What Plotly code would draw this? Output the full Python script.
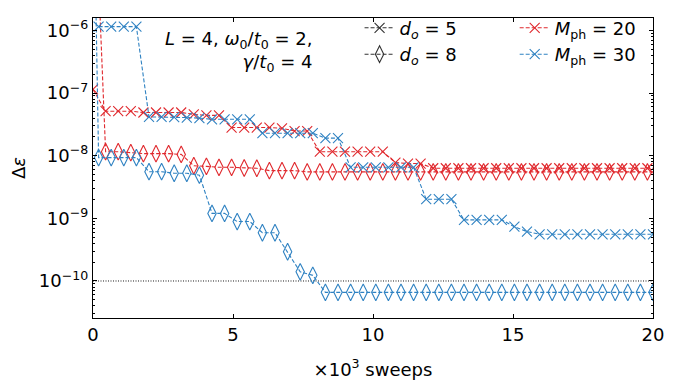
import plotly.graph_objects as go

# sweep positions (x10^3 sweeps)
sweeps_m30 = [0.2, 0.65, 1.1, 1.55, 2.0, 2.45, 2.9, 3.35, 3.8, 4.25, 4.7, 5.15, 5.6,
              6.05, 6.5, 6.95, 7.4, 7.85, 8.3, 8.75, 9.2, 9.65, 10.1, 10.55, 11.0,
              11.45, 11.9, 12.35, 12.8, 13.25, 13.7, 14.15, 14.6, 15.05, 15.5, 15.95,
              16.4, 16.85, 17.3, 17.75, 18.2, 18.65, 19.1, 19.55, 20.0]
sweeps_m20 = [0.45, 0.9, 1.35, 1.8, 2.25, 2.7, 3.15, 3.6, 4.05, 4.5, 4.95, 5.4, 5.85,
              6.3, 6.75, 7.2, 7.65, 8.1, 8.55, 9.0, 9.45, 9.9, 10.35, 10.8, 11.25,
              11.7, 12.15, 12.6, 13.05, 13.5, 13.95, 14.4, 14.85, 15.3, 15.75, 16.2,
              16.65, 17.1, 17.55, 18.0, 18.45, 18.9, 19.35, 19.8, 20.25]

# energy error, M_ph = 20, d_o = 5
err_m20_d5_start = [1.15e-7]
err_m20_d5 = [5.14e-8, 5.14e-8, 5.14e-8, 4.90e-8, 4.90e-8, 4.90e-8, 4.90e-8, 4.57e-8,
              4.41e-8, 4.41e-8, 2.82e-8, 2.82e-8, 2.82e-8, 2.82e-8, 2.74e-8, 2.48e-8,
              2.48e-8, 1.16e-8, 1.16e-8, 1.16e-8, 1.16e-8, 1.16e-8, 1.16e-8, 7.76e-9,
              7.50e-9, 7.50e-9, 6.31e-9, 6.31e-9, 6.31e-9, 6.31e-9, 6.31e-9, 6.31e-9,
              6.31e-9, 6.31e-9, 6.31e-9, 6.31e-9, 6.31e-9, 6.31e-9, 6.31e-9, 6.31e-9,
              6.31e-9, 6.31e-9, 6.31e-9, 6.31e-9, 6.31e-9]
# energy error, M_ph = 20, d_o = 8
err_m20_d8_start = [1.0e-3]
err_m20_d8 = [1.16e-8, 1.16e-8, 1.12e-8, 1.08e-8, 1.08e-8, 1.08e-8, 1.05e-8, 6.92e-9,
              6.76e-9, 6.53e-9, 6.53e-9, 6.37e-9, 6.31e-9, 5.78e-9, 5.78e-9, 5.78e-9,
              5.52e-9, 5.52e-9, 5.52e-9, 5.52e-9, 5.52e-9, 5.52e-9, 5.52e-9, 5.52e-9,
              5.52e-9, 5.52e-9, 5.52e-9, 5.52e-9, 5.52e-9, 5.52e-9, 5.52e-9, 5.52e-9,
              5.52e-9, 5.52e-9, 5.52e-9, 5.52e-9, 5.52e-9, 5.52e-9, 5.52e-9, 5.52e-9,
              5.52e-9, 5.52e-9, 5.52e-9, 5.52e-9, 5.52e-9]
# energy error, M_ph = 30, d_o = 5
err_m30_d5 = [1.15e-6, 1.15e-6, 1.15e-6, 1.15e-6, 4.17e-8, 4.17e-8, 4.12e-8, 4.07e-8,
              3.98e-8, 3.82e-8, 3.82e-8, 3.82e-8, 3.82e-8, 2.29e-8, 2.29e-8, 2.29e-8,
              2.29e-8, 2.29e-8, 1.91e-8, 1.91e-8, 6.53e-9, 6.53e-9, 6.53e-9, 6.53e-9,
              6.53e-9, 6.53e-9, 2.02e-9, 2.02e-9, 2.02e-9, 9.44e-10, 9.44e-10, 9.44e-10,
              9.44e-10, 7.35e-10, 6.15e-10, 5.57e-10, 5.57e-10, 5.57e-10, 5.57e-10,
              5.57e-10, 5.57e-10, 5.57e-10, 5.57e-10, 5.57e-10, 5.57e-10]
# energy error, M_ph = 30, d_o = 8
err_m30_d8_start = [1.0e-3]
err_m30_d8 = [9.33e-9, 9.33e-9, 9.33e-9, 9.33e-9, 5.56e-9, 5.56e-9, 5.25e-9, 5.25e-9,
              4.90e-9, 1.20e-9, 1.20e-9, 8.89e-10, 8.89e-10, 5.89e-10, 5.89e-10,
              2.93e-10, 1.40e-10, 1.23e-10, 6.58e-11, 6.58e-11, 6.58e-11, 6.58e-11,
              6.58e-11, 6.58e-11, 6.58e-11, 6.58e-11, 6.58e-11, 6.58e-11, 6.58e-11,
              6.58e-11, 6.58e-11, 6.58e-11, 6.58e-11, 6.58e-11, 6.58e-11, 6.58e-11,
              6.58e-11, 6.58e-11, 6.58e-11, 6.58e-11, 6.58e-11, 6.58e-11, 6.58e-11,
              6.58e-11, 6.58e-11]

threshold = 1e-10
x_range = [0, 20]
x_ticks = [0, 5, 10, 15, 20]
y_ticks = [1e-10, 1e-9, 1e-8, 1e-7, 1e-6]
y_ticktext = ["10<sup>−10</sup>", "10<sup>−9</sup>", "10<sup>−8</sup>",
              "10<sup>−7</sup>", "10<sup>−6</sup>"]

RED = "#e0282d"
BLUE = "#2f82c2"
FONT = "DejaVu Sans"
FS = 18
DASH = "4px,2px"

fig = go.Figure()

fig.add_trace(go.Scatter(
    x=x_range, y=[threshold, threshold], mode="lines",
    line=dict(color="black", width=0.9, dash="1px,1.5px"), showlegend=False,
    hoverinfo="skip"))

X_SIZE = 10
D_SIZE = 12

def series(x, y, color, symbol, size):
    fig.add_trace(go.Scatter(
        x=x, y=y, mode="lines+markers", showlegend=False, cliponaxis=True,
        line=dict(color=color, width=1.1, dash=DASH),
        marker=dict(symbol=symbol, size=size, color=color,
                    line=dict(color=color, width=1.1))))

series([0.0] + sweeps_m20, err_m20_d8_start + err_m20_d8, RED, "diamond-tall-open", D_SIZE)
series([0.0] + sweeps_m20, err_m20_d5_start + err_m20_d5, RED, "x-thin-open", X_SIZE)
series([0.0] + sweeps_m30, err_m30_d8_start + err_m30_d8, BLUE, "diamond-tall-open", D_SIZE)
series(sweeps_m30, err_m30_d5, BLUE, "x-thin-open", X_SIZE)

# legend entries
def legend_entry(name, color, symbol, size, legend):
    fig.add_trace(go.Scatter(
        x=[None], y=[None], mode="lines+markers", name=name, legend=legend,
        line=dict(color=color, width=1.1, dash=DASH),
        marker=dict(symbol=symbol, size=size, color=color,
                    line=dict(color=color, width=1.1))))

legend_entry("<i>d</i><sub><i>o</i></sub> = 5", "#333333", "x-thin-open", X_SIZE, "legend")
legend_entry("<i>d</i><sub><i>o</i></sub> = 8", "#333333", "diamond-tall-open", D_SIZE, "legend")
legend_entry("<i>M</i><sub>ph</sub> = 20", RED, "x-thin-open", X_SIZE, "legend2")
legend_entry("<i>M</i><sub>ph</sub> = 30", BLUE, "x-thin-open", X_SIZE, "legend2")

leg_common = dict(font=dict(family=FONT, size=FS, color="black"),
                  bgcolor="rgba(0,0,0,0)", borderwidth=0,
                  yanchor="top", xanchor="left", tracegroupgap=0,
                  itemwidth=30)

fig.update_layout(
    width=681, height=380,
    margin=dict(l=93, r=28, t=10, b=62),
    paper_bgcolor="white", plot_bgcolor="white",
    font=dict(family=FONT, size=FS, color="black"),
    legend=dict(x=0.476, y=1.028, **leg_common),
    legend2=dict(x=0.753, y=1.028, **leg_common),
    annotations=[dict(
        xref="paper", yref="paper", x=0.395, y=0.975, xanchor="right", yanchor="top",
        align="right", showarrow=False,
        text="<i>L</i> = 4, <i>ω</i><sub>0</sub>/<i>t</i><sub>0</sub> = 2,<br>"
             "<i>γ</i>/<i>t</i><sub>0</sub> = 4",
        font=dict(family=FONT, size=FS, color="black"))],
)

fig.update_xaxes(
    range=x_range, tickvals=x_ticks, ticks="inside", ticklen=4,
    tickwidth=1, tickcolor="black", showline=True, linecolor="black", linewidth=1.3,
    mirror="ticks", showgrid=False, zeroline=False, automargin=False,
    title=dict(text="×10<sup>3</sup> sweeps", font=dict(family=FONT, size=FS), standoff=22),
    tickfont=dict(family=FONT, size=FS))

minor_vals = [m * 10.0 ** e for e in range(-11, -5) for m in range(2, 10)]
fig.update_yaxes(
    type="log", range=[-10.591, -5.801], tickvals=y_ticks, ticktext=y_ticktext,
    ticks="inside", ticklen=4, tickwidth=1, tickcolor="black",
    showline=True, linecolor="black", linewidth=1.3, mirror="ticks",
    showgrid=False, zeroline=False, automargin=False,
    minor=dict(tickvals=minor_vals, ticks="inside", ticklen=2, tickwidth=0.8,
               tickcolor="black", showgrid=False),
    title=dict(text="Δ<i>ε</i>", font=dict(family=FONT, size=FS), standoff=8),
    tickfont=dict(family=FONT, size=FS))

fig.write_html("out.html")
